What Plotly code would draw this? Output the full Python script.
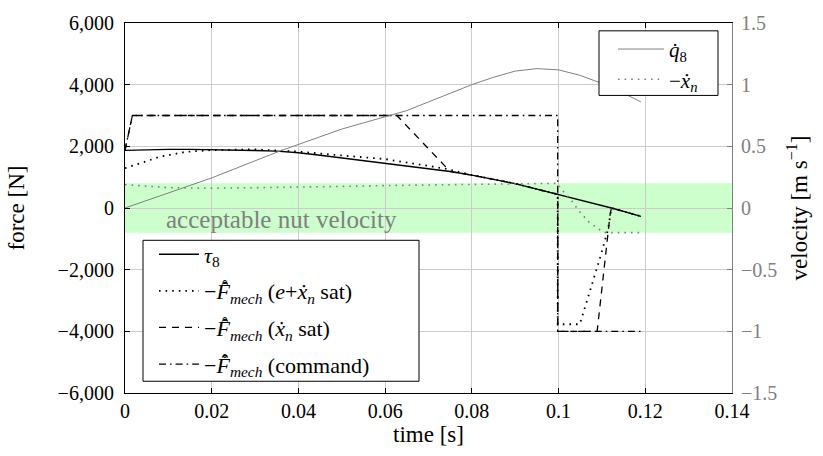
import plotly.graph_objects as go

# ---- data -------------------------------------------------------------
# motor torque tau_8 [N]
t_tau = [0, 0.005, 0.01, 0.015, 0.02, 0.025, 0.03, 0.035, 0.04, 0.045, 0.05,
         0.055, 0.06, 0.065, 0.07, 0.075, 0.08, 0.085, 0.09, 0.095, 0.0998,
         0.105, 0.11, 0.1122, 0.115, 0.119]
tau8 = [1870, 1890, 1900, 1900, 1895, 1885, 1865, 1845, 1790, 1710, 1620,
        1540, 1450, 1365, 1280, 1184, 1065, 930, 790, 610, 445,
        270, 90, 0, -110, -270]

# -F_mech, e + xdot_n saturated [N]
t_fe = [0, 0.0035, 0.008, 0.014, 0.02, 0.03, 0.04, 0.0473, 0.06, 0.0742,
        0.08, 0.085, 0.09, 0.095, 0.0998, 0.0998, 0.1049, 0.1096, 0.1114,
        0.1122, 0.115, 0.119]
f_e_sat = [1290, 1450, 1660, 1820, 1880, 1900, 1830, 1735, 1587, 1270,
           1065, 930, 790, 610, 445, -3770, -3770, -1600, -700,
           0, -110, -270]

# -F_mech, xdot_n saturated [N]
t_fx = [0, 0.0017, 0.0627, 0.075, 0.08, 0.085, 0.09, 0.095, 0.0998, 0.0998,
        0.1089, 0.1119, 0.1122, 0.115, 0.119]
f_x_sat = [1870, 3000, 3000, 1184, 1065, 930, 790, 610, 445, -4000,
           -4000, -190, 0, -110, -270]

# -F_mech, command [N]
t_cmd = [0, 0.0017, 0.0998, 0.0998, 0.119]
f_cmd = [1870, 3000, 3000, -4000, -4000]

# joint velocity qdot_8 [m/s]
t_q = [0, 0.0142, 0.02, 0.0358, 0.04, 0.045, 0.05, 0.055, 0.0612, 0.065,
       0.07, 0.075, 0.08, 0.085, 0.09, 0.095, 0.1, 0.105, 0.11, 0.115, 0.119]
qdot8 = [0, 0.169, 0.244, 0.463, 0.515, 0.582, 0.64, 0.69, 0.751, 0.79,
         0.86, 0.93, 1.0, 1.06, 1.11, 1.13, 1.12, 1.075, 1.01, 0.93, 0.86]

# nut velocity -xdot_n [m/s]
t_xn = [0, 0.005, 0.01, 0.02, 0.03, 0.04, 0.05, 0.06, 0.07, 0.08, 0.09,
        0.0998, 0.1004, 0.1027, 0.1046, 0.1069, 0.1092, 0.1108, 0.119]
xdot_n = [0.19, 0.175, 0.165, 0.16, 0.163, 0.168, 0.175, 0.182, 0.188,
          0.193, 0.197, 0.2, 0.16, 0.075, -0.02, -0.11, -0.17, -0.2, -0.2]

# admissible nut velocity band [m/s]
v_band = [-0.2, 0.2]

x_ticks = [0, 0.02, 0.04, 0.06, 0.08, 0.1, 0.12, 0.14]
x_labels = ["0", "0.02", "0.04", "0.06", "0.08", "0.1", "0.12", "0.14"]
y_ticks = [6000, 4000, 2000, 0, -2000, -4000, -6000]
y_labels = ["6,000", "4,000", "2,000", "0", "\u22122,000", "\u22124,000", "\u22126,000"]
y2_ticks = [1.5, 1, 0.5, 0, -0.5, -1, -1.5]
y2_labels = ["1.5", "1", "0.5", "0", "\u22120.5", "\u22121", "\u22121.5"]

# ---- styling ----------------------------------------------------------
FONT = "Liberation Serif, Times New Roman, serif"
GRAY = "#808080"
F_MECH = "\u2212<i>F\u0311\u030a</i><sub><i>mech</i></sub>"

# plot area in pixels, used to place the legend frames
W, H = 823, 456
ML, MR, MT, MB = 125, 91, 15, 63
PW, PH = W - ML - MR, H - MT - MB


def px_x(p):
    return (p - ML) / PW


def px_y(p):
    return (H - MB - p) / PH


fig = go.Figure()

fig.add_trace(go.Scatter(
    x=t_q, y=qdot8, yaxis="y2", mode="lines", name="<i>q\u0307</i><sub>8</sub>",
    line=dict(color=GRAY, width=1), legend="legend2", legendgroup="q"))
fig.add_trace(go.Scatter(
    x=t_xn, y=xdot_n, yaxis="y2", mode="lines",
    name="\u2212<i>\u1e8b</i><sub><i>n</i></sub>",
    line=dict(color=GRAY, width=1.6, dash="1.6px,5px"), legend="legend2",
    legendgroup="xn"))

fig.add_trace(go.Scatter(
    x=t_tau, y=tau8, mode="lines", name="<i>\u03c4</i><sub>8</sub>",
    line=dict(color="black", width=1.4), legendgroup="tau"))
fig.add_trace(go.Scatter(
    x=t_fe, y=f_e_sat, mode="lines",
    name=F_MECH + " (<i>e</i>+<i>\u1e8b</i><sub><i>n</i></sub> sat)",
    line=dict(color="black", width=1.8, dash="1.6px,5px"), legendgroup="fe"))
fig.add_trace(go.Scatter(
    x=t_fx, y=f_x_sat, mode="lines",
    name=F_MECH + " (<i>\u1e8b</i><sub><i>n</i></sub> sat)",
    line=dict(color="black", width=1.3, dash="7px,6px"), legendgroup="fx"))
fig.add_trace(go.Scatter(
    x=t_cmd, y=f_cmd, mode="lines", name=F_MECH + " (command)",
    line=dict(color="black", width=1.3, dash="7px,4px,1.6px,4px"),
    legendgroup="cmd"))

# green band of acceptable nut velocity
fig.add_shape(type="rect", xref="paper", x0=0, x1=1, yref="y2",
              y0=v_band[0], y1=v_band[1], fillcolor="#ccffcc",
              line=dict(width=0), layer="below")
fig.add_annotation(x=0.0362, y=-0.09, yref="y2", text="acceptable nut velocity",
                   showarrow=False, font=dict(family=FONT, size=25, color=GRAY))

# legend frames (white boxes with black border)
fig.add_shape(type="rect", xref="paper", yref="paper",
              x0=px_x(143), x1=px_x(419), y0=px_y(381), y1=px_y(237),
              fillcolor="white", line=dict(color="black", width=1), layer="above")
fig.add_shape(type="rect", xref="paper", yref="paper",
              x0=px_x(599), x1=px_x(718), y0=px_y(89), y1=px_y(23),
              fillcolor="white", line=dict(color="black", width=1), layer="above")

title_font = dict(family=FONT, size=23, color="black")
tick_font = dict(family=FONT, size=20, color="black")
leg_font = dict(family=FONT, size=22, color="black")
fig.update_layout(
    width=W, height=H,
    margin=dict(l=ML, r=MR, t=MT, b=MB),
    paper_bgcolor="white", plot_bgcolor="white",
    font=title_font,
    xaxis=dict(range=[0, 0.14], tickvals=x_ticks, ticktext=x_labels,
               tickfont=tick_font,
               showgrid=True, gridcolor="#cccccc", gridwidth=1, zeroline=False,
               showline=True, linecolor="black", linewidth=1.2, mirror="ticks",
               ticks="inside", ticklen=5, tickcolor="black",
               title=dict(text="time [s]", font=title_font, standoff=4)),
    yaxis=dict(range=[-6000, 6000], tickvals=y_ticks, ticktext=y_labels,
               tickfont=tick_font, ticklabelstandoff=6,
               showgrid=True, gridcolor="#cccccc", gridwidth=1, zeroline=False,
               showline=True, linecolor="black", linewidth=1.2,
               ticks="inside", ticklen=5, tickcolor="black",
               title=dict(text="force [N]", font=title_font, standoff=26)),
    yaxis2=dict(range=[-1.5, 1.5], overlaying="y", side="right",
                tickvals=y2_ticks, ticktext=y2_labels,
                tickfont=dict(family=FONT, size=20, color=GRAY),
                ticklabelstandoff=4,
                showgrid=False, zeroline=False,
                showline=True, linecolor=GRAY, linewidth=1.2,
                ticks="inside", ticklen=5, tickcolor=GRAY,
                title=dict(text="velocity [m s<sup>\u22121</sup>]",
                           font=title_font, standoff=14)),
    legend=dict(x=px_x(154), y=px_y(230), xanchor="left", yanchor="top",
                bgcolor="rgba(0,0,0,0)", borderwidth=0, itemwidth=40,
                font=leg_font, tracegroupgap=5, traceorder="grouped"),
    legend2=dict(x=px_x(613), y=px_y(21), xanchor="left", yanchor="top",
                 bgcolor="rgba(0,0,0,0)", borderwidth=0, itemwidth=46,
                 font=dict(family=FONT, size=21, color="black"),
                 tracegroupgap=0, traceorder="grouped"),
    showlegend=True,
)

fig.write_html("out.html")
